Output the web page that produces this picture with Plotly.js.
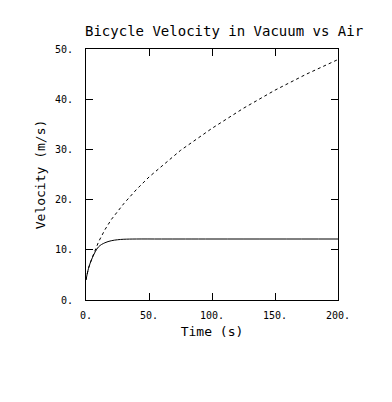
<!DOCTYPE html>
<html>
<head>
<meta charset="utf-8">
<script src="https://cdn.plot.ly/plotly-3.0.1.min.js"></script>
<style>html,body{margin:0;padding:0;background:#fff;}#chart{width:392px;height:402px;}</style>
</head>
<body>
<div id="chart"></div>
<script>
var timeVacuum = [0, 2, 5, 10, 15, 20, 30, 40, 50, 75, 100, 125, 150, 175, 200];
var velVacuum  = [4, 6.4, 8.5, 11.6, 14, 16, 19.2, 22, 24.5, 29.8, 34.2, 38.2, 41.8, 45, 47.9];
var timeAir = [0, 2, 5, 10, 15, 20, 25, 30, 40, 60, 100, 150, 200];
var velAir  = [4, 6.3, 8.4, 10.6, 11.4, 11.8, 12.0, 12.1, 12.15, 12.15, 12.15, 12.15, 12.15];
var xTickVals = [0, 50, 100, 150, 200];
var xTickText = ['0.', '50.', '100.', '150.', '200.'];
var yTickVals = [0, 10, 20, 30, 40, 50];
var yTickText = ['0.', '10.', '20.', '30.', '40.', '50.'];

var mono = 'DejaVu Sans Mono, monospace';
var traces = [
  {x: timeVacuum, y: velVacuum, mode: 'lines', line: {color: '#000', width: 1, dash: 'dot'}, showlegend: false, hoverinfo: 'skip'},
  {x: timeAir, y: velAir, mode: 'lines', line: {color: '#000', width: 1, shape: 'spline'}, showlegend: false, hoverinfo: 'skip'}
];
var axisCommon = {
  showgrid: false, zeroline: false, showline: true, linecolor: '#000', linewidth: 1,
  mirror: 'ticks', ticks: 'inside', ticklen: 7, tickcolor: '#000', tickwidth: 1,
  tickfont: {family: mono, size: 10, color: '#000'}
};
var layout = {
  width: 392, height: 402,
  paper_bgcolor: '#fff', plot_bgcolor: '#fff',
  margin: {l: 86, r: 54, t: 49, b: 102},
  title: {text: 'Bicycle Velocity in Vacuum vs Air', font: {family: mono, size: 14, color: '#000'},
          x: 85/392, xanchor: 'left', xref: 'container', y: 1 - 31/402, yref: 'container', yanchor: 'middle'},
  xaxis: Object.assign({}, axisCommon, {
    range: [0, 200], tickvals: xTickVals, ticktext: xTickText, ticklabelstandoff: 6,
    title: {text: 'Time (s)', font: {family: mono, size: 13, color: '#000'}, standoff: 6}
  }),
  yaxis: Object.assign({}, axisCommon, {
    range: [0, 50], tickvals: yTickVals, ticktext: yTickText, ticklabelstandoff: 10,
    title: {text: 'Velocity (m/s)', font: {family: mono, size: 13, color: '#000'}, standoff: 6}
  })
};
Plotly.newPlot('chart', traces, layout, {staticPlot: true, displayModeBar: false});
</script>
</body>
</html>
